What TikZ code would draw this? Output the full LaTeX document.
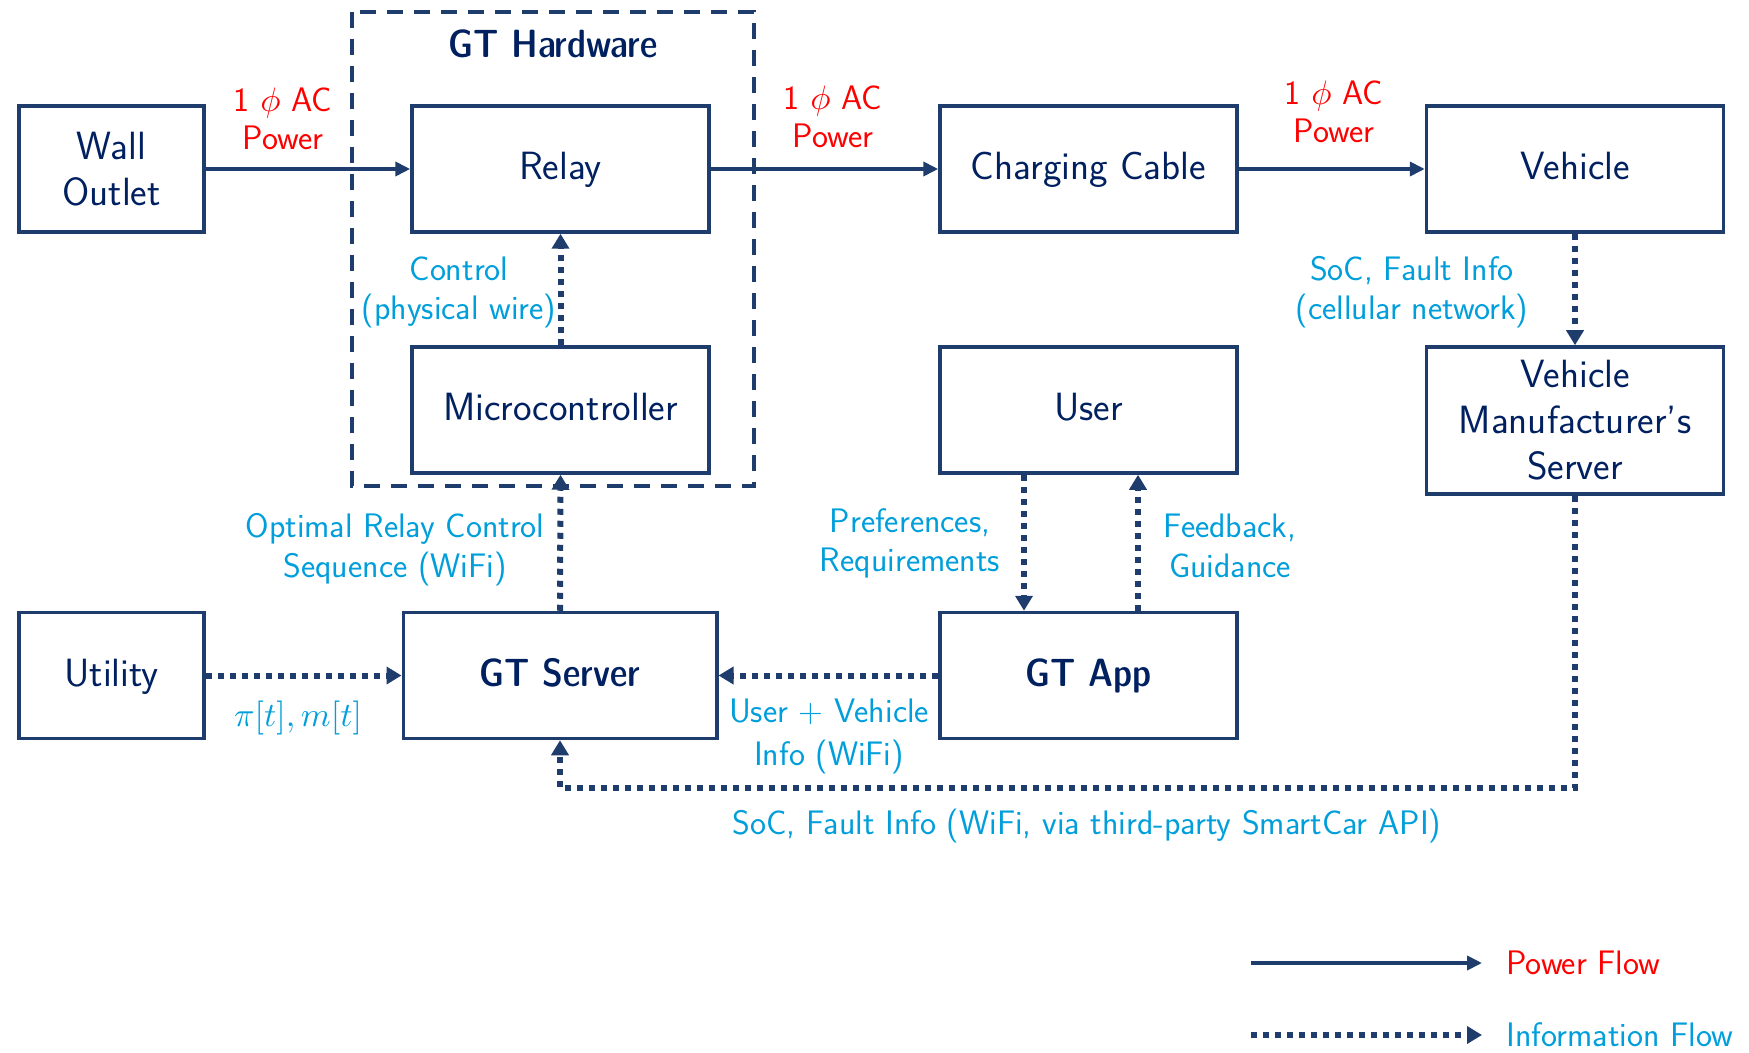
\documentclass[tikz,border=0pt]{standalone}
\usetikzlibrary{arrows.meta}
% scalable math fonts at any size
\DeclareFontShape{OML}{cmm}{m}{it}{<->cmmi10}{\skewchar\font'177}
\DeclareFontShape{OT1}{cmr}{m}{n}{<->cmr10}{}

\definecolor{boxline}{RGB}{31,61,108}
\definecolor{boxtext}{RGB}{0,32,96}
\definecolor{infoblue}{RGB}{0,158,219}
\definecolor{powerred}{RGB}{255,0,0}

\tikzset{
  blockbox/.style={draw=boxline, line width=1.75pt, text=boxtext,
    font=\sffamily\fontsize{19.7}{23}\selectfont, align=center,
    inner sep=0pt, minimum height=63pt, minimum width=148.5pt},
  oneline/.style={text height=14.8pt, text depth=3.9pt},
  boldlabel/.style={font=\sffamily\fontseries{sbc}\fontsize{19.7}{23}\selectfont},
  powerlbl/.style={text=powerred, align=center, inner sep=0pt,
    font=\sffamily\fontsize{17}{19}\selectfont},
  infolbl/.style={text=infoblue, align=center, inner sep=0pt,
    font=\sffamily\fontsize{17}{19.8}\selectfont},
  powerflow/.style={draw=boxline, line width=1.9pt,
    -{Triangle[length=7.5pt,width=7pt]}},
  infoflow/.style={draw=boxline, line width=3pt, dash pattern=on 3pt off 3pt,
    -{Triangle[length=7.5pt,width=8.5pt]}},
  hwframe/.style={draw=boxline, line width=1.7pt, dash pattern=on 8pt off 5.5pt}
}

\begin{document}
\begin{tikzpicture}[x=0.5pt,y=-0.5pt]
  % page frame
  \useasboundingbox (0,0) rectangle (1749,1053);

  % hardware enclosure
  \draw[hwframe] (352,12) rectangle (754,486);
  \node[boldlabel, text=boxtext] (hwtitle) at (553,44) {GT Hardware};

  % blocks
  \node[blockbox, minimum width=92.5pt] (wall) at (111.5,169) {Wall\\Outlet};
  \node[blockbox, oneline] (relay) at (560.5,169) {Relay};
  \node[blockbox, oneline] (micro) at (560.5,410) {Microcontroller};
  \node[blockbox, oneline] (cable) at (1088.5,169) {Charging Cable};
  \node[blockbox, oneline] (vehicle) at (1575,169) {Vehicle};
  \node[blockbox, oneline] (user) at (1088.5,410) {User};
  \node[blockbox, minimum height=73.5pt] (vms) at (1575,420.5) {Vehicle\\Manufacturer's\\Server};
  \node[blockbox, oneline, minimum width=92.5pt] (utility) at (111.5,675.5) {Utility};
  \node[blockbox, oneline, minimum width=156.75pt] (server) at (560,675.5) {\fontseries{sbc}\selectfont GT Server};
  \node[blockbox, oneline] (app) at (1088.5,675.5) {\fontseries{sbc}\selectfont GT App};

  % power path
  \draw[powerflow] (wall) -- (relay);
  \draw[powerflow] (relay) -- (cable);
  \draw[powerflow] (cable) -- (vehicle);
  \node[powerlbl] (p1) at (283,119) {1 $\phi$ AC\\Power};
  \node[powerlbl] (p2) at (833,116.5) {1 $\phi$ AC\\Power};
  \node[powerlbl] (p3) at (1334,112) {1 $\phi$ AC\\Power};

  % information path
  \draw[infoflow] (micro.north) -- (relay.south);
  \node[infolbl] (ctl) at (459,292.5) {Control\\(physical wire)};

  \draw[infoflow] (server.north) -- (micro.south);
  \node[infolbl] (seq) at (395,549.5) {Optimal Relay Control\\Sequence (WiFi)};

  \draw[infoflow] (utility) -- (server);
  \node[infolbl] (price) at (298,718) {$\pi[t], m[t]$};

  \draw[infoflow] (app) -- (server);
  \node[infolbl, font=\sffamily\fontsize{17}{21.5}\selectfont] (uvinfo) at (829,736) {User + Vehicle\\Info (WiFi)};

  \draw[infoflow] (user.south -| 1024,0) -- (app.north -| 1024,0);
  \node[infolbl] (prefs) at (910,543.5) {Preferences,\\Requirements};

  \draw[infoflow] (app.north -| 1138,0) -- (user.south -| 1138,0);
  \node[infolbl] (fb) at (1230,546) {Feedback,\\Guidance};

  \draw[infoflow] (vehicle) -- (vms);
  \node[infolbl] (cell) at (1412,292) {SoC, Fault Info\\(cellular network)};

  \draw[infoflow] (vms.south) -- ++(0,292) -| (server.south);
  \node[infolbl] (api) at (1087,826.5) {SoC, Fault Info (WiFi, via third-party SmartCar API)};

  % key
  \coordinate (kp1) at (1251,963);
  \coordinate (kp2) at (1482,963);
  \coordinate (ki1) at (1251,1035);
  \coordinate (ki2) at (1482,1035);
  \draw[powerflow] (kp1) -- (kp2);
  \draw[infoflow] (ki1) -- (ki2);
  \node[powerlbl, anchor=west] (kpl) at (1506,963) {Power Flow};
  \node[infolbl, anchor=west] (kil) at (1506,1035) {Information Flow};
\end{tikzpicture}
\end{document}
